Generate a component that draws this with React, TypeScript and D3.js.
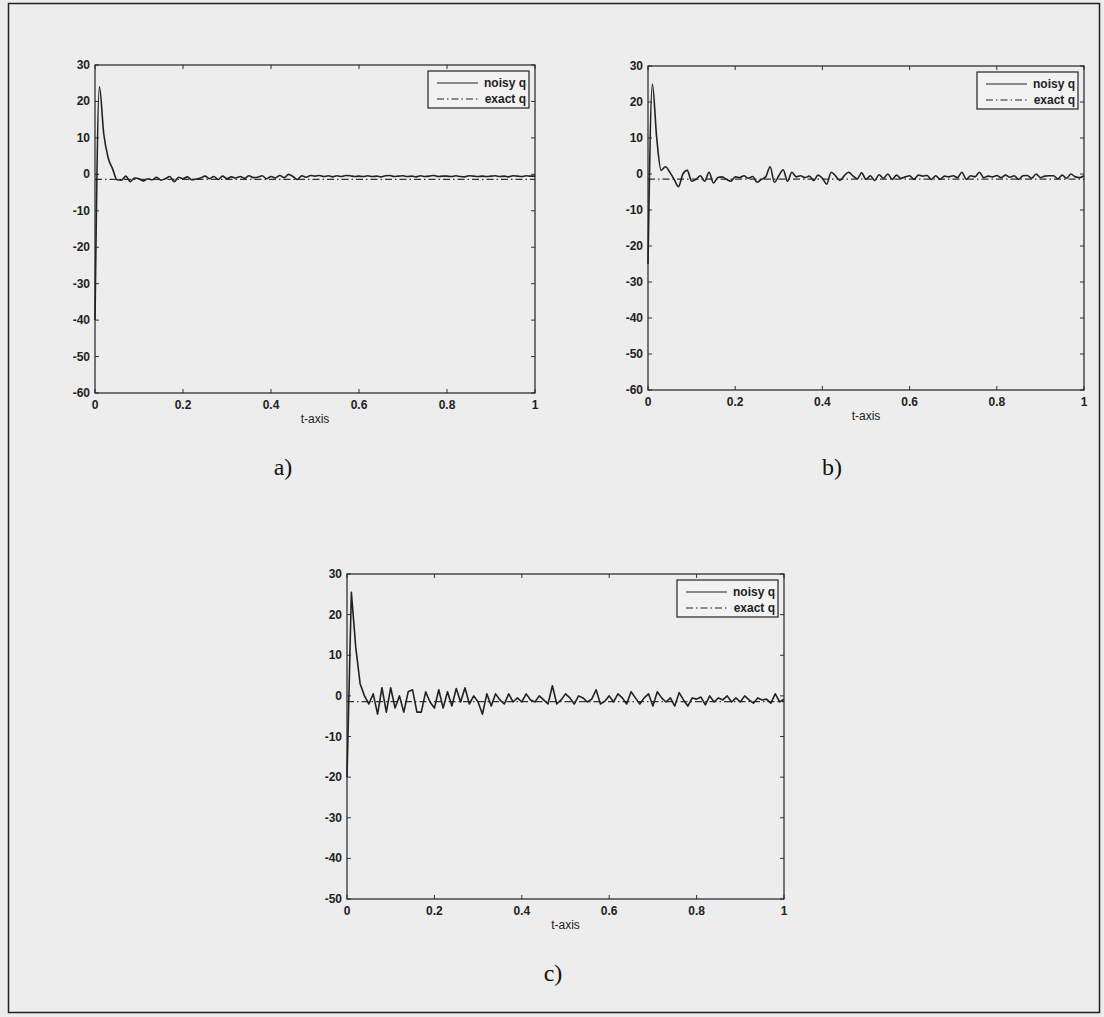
import React, { useEffect, useRef } from 'react';
import * as d3 from 'd3';

// sample step of the noisy data (t = i * tStep)
const tStep = 0.01;

const noisyA = [-40, 24, 11, 4.5, 1.5, -1.5, -1.6, -0.5, -2, -1, -1.2, -1.8, -1.2, -1.5, -0.8, -1.6, -1.2, -0.6, -2, -0.8,
  -1.2, -0.7, -1.5, -1.3, -1, -0.5, -1.2, -0.6, -1.4, -0.5, -1.2, -0.7, -1.0, -0.6, -1.1, -0.4, -0.9, -0.8, -0.4, -1.2,
  -0.6, -1.0, -0.3, -0.9, 0.0, -0.6, -1.4, -0.4, -0.8, -0.3, -0.5, -0.3, -0.6, -0.4, -0.7, -0.4, -0.6, -0.3, -0.4, -0.6,
  -0.5, -0.6, -0.4, -0.6, -0.5, -0.7, -0.4, -0.3, -0.6, -0.5, -0.4, -0.6, -0.5, -0.7, -0.4, -0.6, -0.5, -0.3, -0.6, -0.5,
  -0.5, -0.6, -0.4, -0.6, -0.7, -0.4, -0.5, -0.6, -0.5, -0.6, -0.5, -0.4, -0.6, -0.5, -0.7, -0.4, -0.5, -0.6, -0.4, -0.5, -0.5];

const noisyB = [-25, 25, 10, 1, 2, 0.5, -1.5, -3.5, 0, 1, -2, -1.5, -0.5, -2, 0.5, -2.5, -1, -0.8, -1.5, -2,
  -0.8, -1, -0.5, -1.2, -0.7, -2.3, -1.5, -0.8, 2, -2.3, -0.5, 1.2, -2, 0.5, -0.8, -0.5, -1, -0.6, -1.8, -0.3,
  -1.2, -2.8, 0.5, -0.5, -1.8, -0.5, 0.5, -0.5, -1.3, 0.3, -1.5, -0.5, -1.8, -0.2, -1.2, 0, -1.5, -0.3, -1.2, -0.8,
  -0.5, -1.5, -0.3, -0.6, -0.4, -1.5, -0.5, -1.5, -0.6, -0.8, -0.5, -1, 0.5, -1.5, -0.5, -0.8, 0.5, -1, -0.6, -0.8,
  -0.4, -1, -0.3, -0.9, -0.5, -1.5, -0.5, -0.4, -1.2, 0, -1, -0.6, -0.5, -0.5, -1.3, -0.3, -1.2, 0, -0.8, -1, -0.5];

const noisyC = [-20, 25.5, 12, 3, 0, -2, 0.5, -4.5, 2, -4, 2, -3, 0, -4, 1, 1.5, -4, -4, 1, -1.5,
  -3, 1.5, -3, 1, -2.5, 1.8, -1.5, 2, -2, 0, -1.5, -4.5, 0.5, -2.5, 0.5, -1, -2, 0.5, -1.5, -0.5,
  -1.5, 0.5, -1, -1.5, 0, -1, -2, 2.5, -2, -1, 0.5, -0.5, -2, 0, -0.5, -1.5, -0.8, 1.5, -2, -1.3,
  0, -1.5, 0.5, -0.5, -2, 1, -0.5, -2, -0.5, 0.5, -2.5, 1, -0.5, -1.5, -0.5, -2.5, 0.8, -1, -2.5, -0.5,
  -0.8, -0.3, -2.2, 0, -1.5, -0.5, -1, 0, -1.5, -0.5, -1.5, 0, -1, -1.8, -0.5, -1, -0.8, -1.8, 0.5, -1.5, -0.8];

const exactT = [0, 1];
const exactQ = [-1.4, -1.4];

const xTicks = [0, 0.2, 0.4, 0.6, 0.8, 1];
const legendLabels = ['noisy q', 'exact q'];
const panelLetters = ['a)', 'b)', 'c)'];

const panels = [
  { x0: 95, x1: 535, y0: 65, y1: 393, ymin: -60, data: noisyA, smooth: true, lx: 283, ly: 475 },
  { x0: 648, x1: 1084, y0: 66, y1: 390, ymin: -60, data: noisyB, smooth: true, lx: 832, ly: 475 },
  { x0: 347, x1: 784, y0: 574, y1: 899, ymin: -50, data: noisyC, smooth: false, lx: 553, ly: 981 },
];

const font = 'Liberation Sans, Arial, sans-serif';

const App = () => {
  const ref = useRef<SVGSVGElement>(null);

  useEffect(() => {
    const svg = d3.select(ref.current);
    svg.selectAll('*').remove();

    svg.append('rect').attr('width', 1104).attr('height', 1017).attr('fill', '#ededed');
    // outer frame
    svg.append('rect').attr('x', 8.5).attr('y', 3.5).attr('width', 1091).attr('height', 1009)
      .attr('fill', 'none').attr('stroke', '#222').attr('stroke-width', 1.5);

    panels.forEach((p, pi) => {
      const x = d3.scaleLinear().domain([0, 1]).range([p.x0, p.x1]);
      const y = d3.scaleLinear().domain([p.ymin, 30]).range([p.y1, p.y0]);
      const g = svg.append('g');
      const yTicks = d3.range(p.ymin, 31, 10);

      // ticks (inside, mirrored)
      xTicks.forEach(t => {
        g.append('line').attr('x1', x(t)).attr('x2', x(t)).attr('y1', p.y1).attr('y2', p.y1 - 4).attr('stroke', '#333');
        g.append('line').attr('x1', x(t)).attr('x2', x(t)).attr('y1', p.y0).attr('y2', p.y0 + 4).attr('stroke', '#333');
        g.append('text').attr('x', x(t)).attr('y', p.y1 + 16).attr('text-anchor', 'middle')
          .attr('font-family', font).attr('font-size', 12).attr('font-weight', 'bold').attr('fill', '#222').text(String(t));
      });
      yTicks.forEach(t => {
        g.append('line').attr('x1', p.x0).attr('x2', p.x0 + 4).attr('y1', y(t)).attr('y2', y(t)).attr('stroke', '#333');
        g.append('line').attr('x1', p.x1).attr('x2', p.x1 - 4).attr('y1', y(t)).attr('y2', y(t)).attr('stroke', '#333');
        g.append('text').attr('x', p.x0 - 5).attr('y', y(t) + 4).attr('text-anchor', 'end')
          .attr('font-family', font).attr('font-size', 12).attr('font-weight', 'bold').attr('fill', '#222').text(String(t));
      });
      g.append('text').attr('x', (p.x0 + p.x1) / 2).attr('y', p.y1 + 30).attr('text-anchor', 'middle')
        .attr('font-family', font).attr('font-size', 12).attr('fill', '#222').text('t-axis');

      const line = d3.line<number>().x((d, i) => x(i * tStep)).y(d => y(d))
        .curve(p.smooth ? d3.curveMonotoneX : d3.curveLinear);
      g.append('path').datum(exactQ)
        .attr('d', d3.line<number>().x((d, i) => x(exactT[i])).y(d => y(d)))
        .attr('fill', 'none').attr('stroke', '#333').attr('stroke-width', 1.2).attr('stroke-dasharray', '7,3,1.5,3');
      g.append('path').datum(p.data).attr('d', line)
        .attr('fill', 'none').attr('stroke', '#222').attr('stroke-width', 1.6).attr('stroke-linejoin', 'round');

      // box
      g.append('rect').attr('x', p.x0).attr('y', p.y0).attr('width', p.x1 - p.x0).attr('height', p.y1 - p.y0)
        .attr('fill', 'none').attr('stroke', '#222').attr('stroke-width', 1.2);

      // legend
      const lw = 101, lh = 37;
      const lx = p.x1 - lw - 6, ly = p.y0 + 6;
      g.append('rect').attr('x', lx).attr('y', ly).attr('width', lw).attr('height', lh)
        .attr('fill', '#f2f2f2').attr('stroke', '#222').attr('stroke-width', 1.2);
      legendLabels.forEach((lab, k) => {
        const yy = ly + 12 + k * 16;
        g.append('line').attr('x1', lx + 9).attr('x2', lx + 50).attr('y1', yy).attr('y2', yy)
          .attr('stroke', '#222').attr('stroke-width', 1.2).attr('stroke-dasharray', k === 1 ? '7,3,1.5,3' : null);
        g.append('text').attr('x', lx + lw - 3).attr('y', yy + 4).attr('text-anchor', 'end')
          .attr('font-family', font).attr('font-size', 12).attr('font-weight', 'bold').attr('fill', '#222').text(lab);
      });

      svg.append('text').attr('x', p.lx).attr('y', p.ly).attr('text-anchor', 'middle')
        .attr('font-family', 'Liberation Serif, serif').attr('font-size', 24).attr('fill', '#111').text(panelLetters[pi]);
    });
  }, []);

  return <svg ref={ref} width={1104} height={1017} style={{ position: 'absolute', left: 0, top: 0 }} />;
};

export default App;
